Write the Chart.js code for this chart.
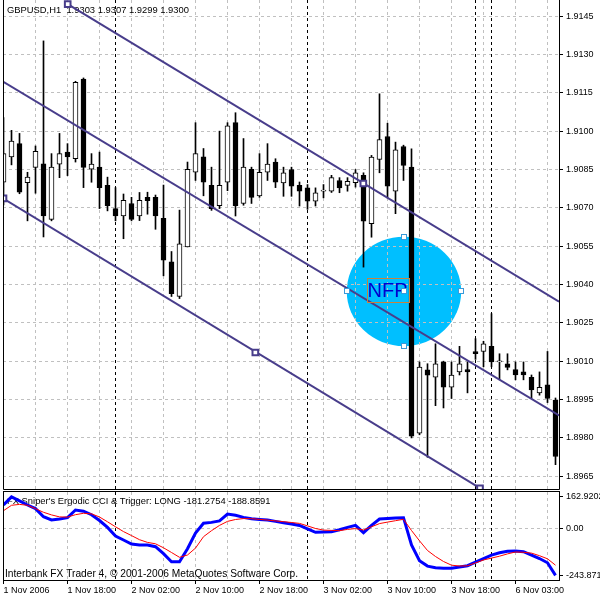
<!DOCTYPE html>
<html>
<head>
<meta charset="utf-8">
<title>GBPUSD,H1</title>
<script src="https://cdn.jsdelivr.net/npm/chart.js@4.4.1/dist/chart.umd.min.js"></script>
<style>
  html, body { margin: 0; padding: 0; background: #fff; }
  #wrap { width: 600px; height: 600px; }
</style>
</head>
<body>
<div id="wrap"><canvas id="myChart" width="600" height="600"></canvas></div>
<script>
// hourly bars from 1 Nov 2006 10:00, index = bar number
const barOpen = [1.90800, 1.90899, 1.90951, 1.90798, 1.90858, 1.90872, 1.90655, 1.90871, 1.90918, 1.90892,
  1.91204, 1.90851, 1.90859, 1.90788, 1.90697, 1.90668, 1.90717, 1.90668, 1.90741, 1.90741,
  1.90659, 1.90489, 1.90353, 1.90547, 1.90839, 1.90899, 1.90788, 1.90708, 1.90800, 1.91033,
  1.90717, 1.90851, 1.90747, 1.90839, 1.90879, 1.90797, 1.90850, 1.90788, 1.90778, 1.90726,
  1.90765, 1.90765, 1.90807, 1.90788, 1.90798, 1.90827, 1.90638, 1.90889, 1.90979, 1.90765,
  1.90940, 1.90859, 1.89818, 1.90066, 1.90037, 1.90097, 1.89998, 1.90058, 1.90067, 1.90138,
  1.90138, 1.90158, 1.90097, 1.90090, 1.90067, 1.90058, 1.90037, 1.89976, 1.90007, 1.89948];
const barHigh = [1.91053, 1.91003, 1.90991, 1.90839, 1.90942, 1.91353, 1.90912, 1.90991, 1.90951, 1.91195,
  1.91208, 1.90912, 1.90918, 1.90820, 1.90779, 1.90754, 1.90741, 1.90760, 1.90761, 1.90750,
  1.90789, 1.90529, 1.90691, 1.90879, 1.91033, 1.90932, 1.90859, 1.91000, 1.91033, 1.91072,
  1.90971, 1.90859, 1.90912, 1.90951, 1.90892, 1.90859, 1.90859, 1.90801, 1.90791, 1.90778,
  1.90791, 1.90827, 1.90818, 1.90818, 1.90850, 1.90837, 1.90905, 1.91146, 1.91031, 1.90957,
  1.90945, 1.90931, 1.90097, 1.90090, 1.90168, 1.90100, 1.90097, 1.90158, 1.90097, 1.90188,
  1.90178, 1.90286, 1.90129, 1.90129, 1.90097, 1.90097, 1.90046, 1.90058, 1.90138, 1.89956];
const barLow = [1.90711, 1.90868, 1.90755, 1.90649, 1.90757, 1.90586, 1.90649, 1.90818, 1.90826, 1.90879,
  1.90779, 1.90800, 1.90697, 1.90688, 1.90649, 1.90579, 1.90649, 1.90650, 1.90675, 1.90616,
  1.90434, 1.90353, 1.90345, 1.90547, 1.90807, 1.90747, 1.90690, 1.90697, 1.90767, 1.90668,
  1.90710, 1.90717, 1.90741, 1.90807, 1.90779, 1.90745, 1.90745, 1.90707, 1.90694, 1.90707,
  1.90739, 1.90760, 1.90759, 1.90765, 1.90781, 1.90468, 1.90585, 1.90837, 1.90739, 1.90677,
  1.90807, 1.89800, 1.89812, 1.89724, 1.89926, 1.89917, 1.89954, 1.90046, 1.89976, 1.90107,
  1.90078, 1.90078, 1.90027, 1.90066, 1.90027, 1.90027, 1.89954, 1.89967, 1.89938, 1.89695];
const barClose = [1.90912, 1.90961, 1.90761, 1.90820, 1.90921, 1.90668, 1.90859, 1.90912, 1.90899, 1.91191,
  1.90858, 1.90871, 1.90779, 1.90708, 1.90668, 1.90729, 1.90655, 1.90729, 1.90728, 1.90668,
  1.90495, 1.90364, 1.90559, 1.90851, 1.90912, 1.90800, 1.90697, 1.90788, 1.91021, 1.90708,
  1.90859, 1.90741, 1.90839, 1.90871, 1.90800, 1.90837, 1.90785, 1.90765, 1.90726, 1.90759,
  1.90768, 1.90818, 1.90778, 1.90804, 1.90837, 1.90648, 1.90898, 1.90967, 1.90785, 1.90927,
  1.90866, 1.89807, 1.90077, 1.90045, 1.90090, 1.89998, 1.90046, 1.90090, 1.90058, 1.90129,
  1.90168, 1.90097, 1.90098, 1.90076, 1.90046, 1.90046, 1.89988, 1.89998, 1.89954, 1.89727];

// Ergodic CCI (blue) and trigger (red)
const cciMain = [120.7, 162.9, 142.0, 120.7, 102.1, 60.1, 43.5, 47.7, 54.9, 94.8,
  88.6, 70.5, 40.4, 4.7, -40.4, -60.6, -81.3, -86.5, -86.5, -95.3,
  -131.6, -173.1, -173.1, -106.2, -24.4, 25.9, 30.6, 38.3, 73.6, 67.9,
  56.5, 49.7, 46.1, 42.5, 35.8, 29.0, 22.3, 15.0, -2.6, -20.7,
  -19.2, -18.1, -7.8, 4.7, 15.5, -22.8, 15.0, 48.2, 50.8, 52.8,
  54.9, -86.5, -167.9, -195.9, -204.1, -207.3, -207.3, -201.0, -193.8, -175.1,
  -157.0, -138.9, -126.9, -119.2, -117.1, -121.2, -138.9, -156.5, -178.8, -243.9];
const cciTrigger = [91.2, 119.2, 123.8, 119.2, 101.6, 82.9, 69.4, 59.1, 58.0, 70.5,
  77.7, 75.1, 58.5, 33.7, 7.8, -17.1, -37.8, -59.1, -73.1, -80.3,
  -101.0, -125.4, -150.3, -138.3, -102.6, -43.5, -12.4, 15.0, 35.8, 45.6,
  50.3, 49.7, 46.1, 42.5, 38.3, 34.2, 30.1, 25.4, 12.4, -1.0,
  -9.3, -10.9, -12.4, -5.7, -1.6, -8.8, 7.8, 24.4, 32.1, 39.4,
  46.6, -11.4, -64.8, -115.0, -146.1, -172.0, -191.2, -195.3, -194.3, -179.3,
  -164.2, -154.4, -144.6, -132.6, -122.8, -124.4, -128.5, -142.0, -158.0, -191.2];

const timeLabels = {0: '1 Nov 2006', 8: '1 Nov 18:00', 16: '2 Nov 02:00', 24: '2 Nov 10:00',
  32: '2 Nov 18:00', 40: '3 Nov 02:00', 48: '3 Nov 10:00', 56: '3 Nov 18:00', 64: '6 Nov 03:00'};
const gridBars = [0, 4, 8, 12, 16, 20, 24, 28, 32, 36, 40, 44, 48, 52, 56, 60, 64, 68];
const separatorBars = [14, 38, 59, 61];
const priceTicks = [1.8965, 1.8980, 1.8995, 1.9010, 1.9025, 1.9040, 1.9055, 1.9070,
  1.9085, 1.9100, 1.9115, 1.9130, 1.9145];
const cciTicks = [162.9202, 0, -243.871];
const cciTickLabels = ['162.9202', '0.00', '-243.871'];

// equidistant channel, [bar, price]
const channelTop = [[8.025, 1.91497], [69.44, 1.90333]];
const channelMid = [[-0.07, 1.91194], [69.44, 1.89888]];
const channelLow = [[-0.07, 1.90737], [59.56, 1.89603]];
const channelHandles = [[8.025, 1.91497], [44.98, 1.90795], [0.0, 1.90737], [31.48, 1.90134], [59.56, 1.89603]];

// NFP ellipse and label, in bar / price units
const nfpEllipse = {bar: 50.06, price: 1.90373, halfBars: 7.15, halfPrice: 0.00214};
const nfpText = {bar: 48.0, price: 1.90352, text: 'NFP'};

window.onload = function () {

const FONT = 'Liberation Sans';
const xMin = -0.0625, xMax = 69.4375;

const mtDecor = {
    id: 'mtDecor',
    beforeDraw(chart) {
        const {ctx, scales: {x, y}} = chart;
        const cx = x.getPixelForValue(nfpEllipse.bar);
        const cy = y.getPixelForValue(nfpEllipse.price);
        const rx = x.getPixelForValue(nfpEllipse.bar + nfpEllipse.halfBars) - cx;
        const ry = cy - y.getPixelForValue(nfpEllipse.price + nfpEllipse.halfPrice);
        ctx.save();
        ctx.beginPath();
        ctx.ellipse(cx, cy, rx, ry, 0, 0, Math.PI * 2);
        ctx.fillStyle = '#00BFFF';
        ctx.fill();
        ctx.restore();
    },
    beforeDatasetsDraw(chart) {
        const {ctx, chartArea, scales: {x, y, y2}} = chart;
        ctx.save();
        // period separators
        ctx.strokeStyle = '#000';
        ctx.lineWidth = 1;
        ctx.setLineDash([3, 3]);
        separatorBars.forEach(b => {
            const px = x.getPixelForValue(b);
            ctx.beginPath();
            ctx.moveTo(px, chartArea.top);
            ctx.lineTo(px, chartArea.bottom);
            ctx.stroke();
        });
        ctx.setLineDash([]);
        ctx.fillStyle = '#000';
        ctx.textBaseline = 'middle';
        ctx.textAlign = 'left';
        ctx.font = '9.4px ' + FONT;
        ctx.fillText('GBPUSD,H1  1.9303 1.9307 1.9299 1.9300', chartArea.left + 4, y.top + 10);
        ctx.fillText("FX Sniper's Ergodic CCI & Trigger: LONG -181.2754 -188.8591", chartArea.left + 4, y2.top + 11);
        ctx.font = '10.2px ' + FONT;
        ctx.fillText('Interbank FX Trader 4, \u00a9 2001-2006 MetaQuotes Software Corp.', chartArea.left + 2, y2.bottom - 6);
        ctx.restore();
    },
    afterDatasetsDraw(chart) {
        const {ctx, chartArea, scales: {x, y, y2}} = chart;
        ctx.save();
        // panel frames
        ctx.strokeStyle = '#000';
        ctx.lineWidth = 1;
        const l = chartArea.left + 0.5, r = chartArea.right + 0.5;
        ctx.beginPath();
        ctx.moveTo(l, y.top); ctx.lineTo(l, y.bottom - 0.5);
        ctx.lineTo(r, y.bottom - 0.5); ctx.lineTo(r, y.top);
        ctx.stroke();
        ctx.strokeRect(l, y2.top + 1.5, r - l, y2.bottom - y2.top - 1);

        // NFP label with selection box
        const tx = x.getPixelForValue(nfpText.bar);
        const ty = y.getPixelForValue(nfpText.price);
        ctx.font = '20px ' + FONT;
        ctx.textAlign = 'center';
        ctx.textBaseline = 'alphabetic';
        ctx.fillStyle = '#0000CD';
        ctx.fillText(nfpText.text, tx, ty);
        const w = ctx.measureText(nfpText.text).width;
        ctx.strokeStyle = '#C8823C';
        ctx.strokeRect(Math.round(tx - w / 2 - 1) + 0.5, Math.round(ty - 19) + 0.5, Math.round(w + 2), 24);

        // ellipse handles
        const cx = x.getPixelForValue(nfpEllipse.bar);
        const cy = y.getPixelForValue(nfpEllipse.price);
        const rx = x.getPixelForValue(nfpEllipse.bar + nfpEllipse.halfBars) - cx;
        const ry = cy - y.getPixelForValue(nfpEllipse.price + nfpEllipse.halfPrice);
        ctx.fillStyle = '#fff';
        ctx.strokeStyle = '#3A9AD9';
        [[cx, cy - ry], [cx, cy + ry], [cx - rx, cy], [cx + rx, cy], [cx, cy]].forEach(p => {
            const hx = Math.round(p[0]) - 2.5, hy = Math.round(p[1]) - 2.5;
            ctx.fillRect(hx, hy, 5, 5);
            ctx.strokeRect(hx, hy, 5, 5);
        });
        ctx.restore();
    }
};

const pts = arr => arr.map(p => ({x: p[0], y: p[1]}));

const myChart = new Chart(document.getElementById('myChart').getContext('2d'), {
    type: 'bar',
    data: {
        datasets: [
            {
                type: 'bar',
                data: barLow.map((lo, i) => ({x: i, y: [lo, barHigh[i]]})),
                backgroundColor: '#000',
                barThickness: 1,
                grouped: false,
                yAxisID: 'y',
                order: 3
            },
            {
                type: 'bar',
                data: barOpen.map((o, i) => ({x: i, y: [o, barClose[i]]})),
                backgroundColor: barOpen.map((o, i) => barClose[i] >= o ? '#ffffff' : '#000000'),
                borderColor: '#000',
                borderWidth: 1,
                borderSkipped: false,
                barThickness: 5,
                minBarLength: 1,
                grouped: false,
                yAxisID: 'y',
                order: 2
            },
            {
                type: 'line', data: pts(channelTop), yAxisID: 'y',
                borderColor: '#483D8B', borderWidth: 2, pointRadius: 0, order: 1
            },
            {
                type: 'line', data: pts(channelMid), yAxisID: 'y',
                borderColor: '#483D8B', borderWidth: 2, pointRadius: 0, order: 1
            },
            {
                type: 'line', data: pts(channelLow), yAxisID: 'y',
                borderColor: '#483D8B', borderWidth: 2, pointRadius: 0, order: 1
            },
            {
                type: 'line', data: pts(channelHandles), yAxisID: 'y', showLine: false,
                pointStyle: 'rect', pointRadius: 4, pointBorderWidth: 2,
                pointBackgroundColor: '#fff', pointBorderColor: '#483D8B', order: 0
            },
            {
                type: 'line', data: cciMain.map((v, i) => ({x: i, y: v})), yAxisID: 'y2',
                borderColor: '#0000FF', borderWidth: 3, pointRadius: 0, order: 1
            },
            {
                type: 'line', data: cciTrigger.map((v, i) => ({x: i, y: v})), yAxisID: 'y2',
                borderColor: '#FF0000', borderWidth: 1, pointRadius: 0, order: 0
            }
        ]
    },
    options: {
        responsive: false,
        animation: false,
        events: [],
        layout: { autoPadding: false, padding: { left: 3, top: 0, right: 0, bottom: 0 } },
        plugins: {
            legend: { display: false },
            tooltip: { enabled: false }
        },
        scales: {
            x: {
                type: 'linear',
                min: xMin,
                max: xMax,
                offset: false,
                afterBuildTicks: s => { s.ticks = gridBars.map(v => ({value: v})); },
                afterFit: s => { s.height = 20; s.paddingLeft = 0; s.paddingRight = 0; },
                grid: {
                    offset: false,
                    color: '#C0C0C0',
                    tickLength: 4,
                    tickColor: c => (c.tick && timeLabels[c.tick.value] !== undefined) ? '#000' : 'rgba(0,0,0,0)'
                },
                border: { display: false, dash: [3, 3] },
                ticks: {
                    autoSkip: false,
                    maxRotation: 0,
                    align: 'start',
                    padding: 1,
                    color: '#000',
                    font: { family: FONT, size: 9 },
                    callback: v => timeLabels[v] !== undefined ? timeLabels[v] : ''
                }
            },
            y: {
                type: 'linear',
                position: 'right',
                stack: 'panes',
                stackWeight: 490,
                min: 1.89596,
                max: 1.91513,
                afterBuildTicks: s => { s.ticks = priceTicks.map(v => ({value: v})); },
                afterFit: s => { s.width = 41; s.paddingTop = 0; s.paddingBottom = 0; },
                grid: { color: '#C0C0C0', tickColor: '#000', tickLength: 4 },
                border: { display: false, dash: [3, 3] },
                ticks: {
                    color: '#000',
                    padding: 3,
                    font: { family: FONT, size: 9 },
                    callback: v => Number(v).toFixed(4)
                }
            },
            y2: {
                type: 'linear',
                position: 'right',
                stack: 'panes',
                stackWeight: 90,
                min: -267.9,
                max: 198.4,
                afterBuildTicks: s => { s.ticks = cciTicks.map(v => ({value: v})); },
                afterFit: s => { s.width = 41; s.paddingTop = 0; s.paddingBottom = 0; },
                grid: {
                    color: c => (c.tick && c.tick.value === 0) ? '#C0C0C0' : 'rgba(0,0,0,0)',
                    tickColor: '#000',
                    tickLength: 4
                },
                border: { display: false, dash: [3, 3] },
                ticks: {
                    color: '#000',
                    padding: 3,
                    font: { family: FONT, size: 9 },
                    callback: (v, i) => cciTickLabels[i]
                }
            }
        }
    },
    plugins: [mtDecor]
});

};
</script>
</body>
</html>
